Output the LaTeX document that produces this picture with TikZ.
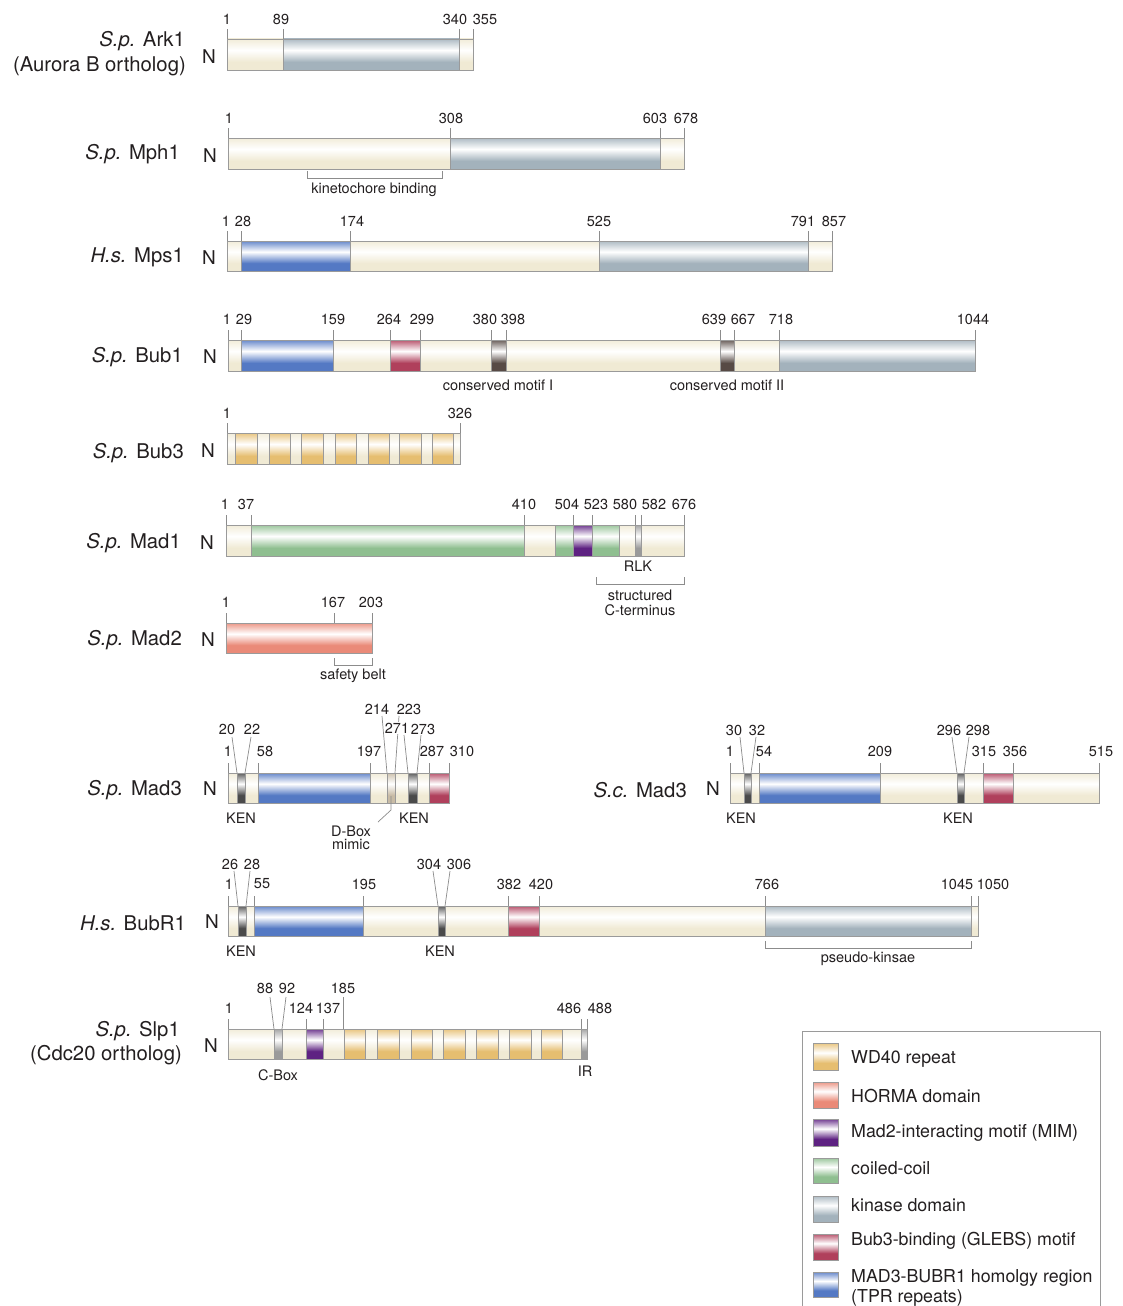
\documentclass[tikz,border=0pt]{standalone}
\usepackage{fontspec}
\setmainfont{TeX Gyre Heros}
\definecolor{beige}{HTML}{F0EAD4}
\definecolor{kin}{HTML}{A3B2BC}
\definecolor{tpr}{HTML}{5479C4}
\definecolor{glebs}{HTML}{B0405C}
\definecolor{wd}{HTML}{E6BE70}
\definecolor{horma}{HTML}{EA8A78}
\definecolor{mim}{HTML}{5E2282}
\definecolor{cc}{HTML}{8FBF90}
\definecolor{ken}{HTML}{4A4A4A}
\definecolor{motif}{HTML}{574A45}
\definecolor{rlk}{HTML}{9A9A9A}
\definecolor{dbox}{HTML}{C8BBA5}
\definecolor{edge}{HTML}{9A9A9A}
\definecolor{tickc}{HTML}{8C8C8C}
\definecolor{txt}{HTML}{231F20}
\colorlet{hitop}{white}\colorlet{himid}{white}\colorlet{hibot}{white}
\pgfdeclareverticalshading[hitop,himid,hibot]{hiband}{100bp}{color(0bp)=(hibot); color(25bp)=(hibot); color(38bp)=(hibot); color(57bp)=(himid); color(75bp)=(hitop); color(100bp)=(hitop)}
\newcounter{lb}
\newcommand\Lb[4][tnum]{\stepcounter{lb}\node[#1] (lb\arabic{lb}) at (#2,#3) {#4};}
\newcommand\Seg[5]{\colorlet{hitop}{#5!88!white}\colorlet{himid}{white}\colorlet{hibot}{#5}\shadedraw[shading=hiband, draw=edge, line width=0.7pt] (#1,#3) rectangle (#2,#4);}
\newcommand\Tks[3]{\foreach \x in {#3} {\draw[tk] (\x,#1) -- (\x,#2);}}
\tikzset{
  tnum/.style={font=\fontsize{14.5}{15}\selectfont, inner sep=0pt, text=txt},
  tlab/.style={font=\fontsize{14.5}{15}\selectfont, inner sep=0pt, text=txt},
  pname/.style={font=\fontsize{20.3}{21}\selectfont, inner sep=0pt, anchor=east, text=txt},
  nterm/.style={font=\fontsize{19}{20}\selectfont, inner sep=0pt, text=txt},
  legt/.style={font=\fontsize{17.8}{18}\selectfont, inner sep=0pt, anchor=west, text=txt},
  tk/.style={draw=tickc, line width=0.7pt}
}
\begin{document}
\begin{tikzpicture}[x=1pt,y=-1pt]
\useasboundingbox (0,0) rectangle (1122,1306);
\fill[white] (0,0) rectangle (1122,1306);

% ---------- Ark1
\Seg{227}{283}{39}{70}{beige}
\Seg{283}{459}{39}{70}{kin}
\Seg{459}{473}{39}{70}{beige}
\Tks{39}{29}{227,283,459,473}
\Lb{227}{19}{1}\Lb{281}{19}{89}\Lb{455}{19}{340}\Lb{485}{19}{355}
\Lb[pname]{185}{41}{\textit{S.p.} Ark1}
\Lb[pname]{186}{66}{(Aurora B ortholog)}
\Lb[nterm]{209}{57}{N}

% ---------- Mph1
\Seg{228}{450}{138}{169}{beige}
\Seg{450}{660}{138}{169}{kin}
\Seg{660}{684}{138}{169}{beige}
\Tks{138}{128}{228,450,660,684}
\Lb{229}{118}{1}\Lb{451}{118}{308}\Lb{655}{118}{603}\Lb{686}{118}{678}
\draw[tk] (307,171) -- (307,178) -- (442,178) -- (442,171);
\Lb[tlab]{374}{190}{kinetochore binding}
\Lb[pname]{180}{154}{\textit{S.p.} Mph1}
\Lb[nterm]{210}{156}{N}

% ---------- Mps1
\Seg{227}{241}{241}{271}{beige}
\Seg{241}{350}{241}{271}{tpr}
\Seg{350}{599}{241}{271}{beige}
\Seg{599}{808}{241}{271}{kin}
\Seg{808}{832}{241}{271}{beige}
\Tks{241}{231}{227,241,350,599,808,832}
\Lb{226}{221}{1}\Lb{243}{221}{28}\Lb{352}{221}{174}\Lb{599}{221}{525}\Lb{803}{221}{791}\Lb{834}{221}{857}
\Lb[pname]{184}{257}{\textit{H.s.} Mps1}
\Lb[nterm]{209}{258}{N}

% ---------- Bub1
\Seg{228}{241}{340}{371}{beige}
\Seg{241}{333}{340}{371}{tpr}
\Seg{333}{390}{340}{371}{beige}
\Seg{390}{420}{340}{371}{glebs}
\Seg{420}{491}{340}{371}{beige}
\Seg{491}{506}{340}{371}{motif}
\Seg{506}{720}{340}{371}{beige}
\Seg{720}{734}{340}{371}{motif}
\Seg{734}{779}{340}{371}{beige}
\Seg{779}{975}{340}{371}{kin}
\Tks{340}{330}{228,241,333,390,420,491,506,720,734,779,975}
\Lb{227}{319}{1}\Lb{244}{319}{29}\Lb{333}{319}{159}\Lb{389}{319}{264}\Lb{422}{319}{299}
\Lb{485}{319}{380}\Lb{513}{319}{398}\Lb{714}{319}{639}\Lb{743}{319}{667}\Lb{781}{319}{718}\Lb{973}{319}{1044}
\Lb[tlab]{498}{385}{conserved motif I}
\Lb[tlab]{727}{385}{conserved motif II}
\Lb[pname]{183}{357}{\textit{S.p.} Bub1}
\Lb[nterm]{210}{357}{N}

% ---------- Bub3
\Seg{227}{460}{433}{464}{beige}
\foreach \a/\b in {235/257,269/290,301/323,335/356,368/389,399/421,432/453} {\Seg{\a}{\b}{433}{464}{wd}}
\Tks{433}{423}{227,460}
\Lb{227}{413}{1}\Lb{460}{413}{326}
\Lb[pname]{184}{453}{\textit{S.p.} Bub3}
\Lb[nterm]{208}{451}{N}

% ---------- Mad1
\Seg{226}{251}{525}{556}{beige}
\Seg{251}{524}{525}{556}{cc}
\Seg{524}{555}{525}{556}{beige}
\Seg{555}{573}{525}{556}{cc}
\Seg{573}{592}{525}{556}{mim}
\Seg{592}{619}{525}{556}{cc}
\Seg{619}{635}{525}{556}{beige}
\Seg{635}{641}{525}{556}{rlk}
\Seg{641}{684}{525}{556}{beige}
\Tks{525}{515}{226,251,524,573,592,635,641,684}
\Lb{225}{504}{1}\Lb{246}{504}{37}\Lb{524}{504}{410}\Lb{567}{504}{504}\Lb{596}{504}{523}
\Lb{625}{504}{580}\Lb{654}{504}{582}\Lb{684}{504}{676}
\Lb[tlab]{638}{566}{RLK}
\draw[tk] (596,577) -- (596,584) -- (684,584) -- (684,577);
\Lb[tlab]{640}{595}{structured}
\Lb[tlab]{640}{610}{C-terminus}
\Lb[pname]{181}{543}{\textit{S.p.} Mad1}
\Lb[nterm]{207}{543}{N}

% ---------- Mad2
\Seg{226}{372}{623}{653}{horma}
\Tks{623}{613}{226,334,372}
\Lb{226}{602}{1}\Lb{333}{602}{167}\Lb{371}{602}{203}
\draw[tk] (334,658) -- (334,665) -- (372,665) -- (372,658);
\Lb[tlab]{353}{676}{safety belt}
\Lb[pname]{182}{640}{\textit{S.p.} Mad2}
\Lb[nterm]{208}{640}{N}

% ---------- S.p. Mad3
\Seg{228}{237}{773}{803}{beige}
\Seg{237}{245}{773}{803}{ken}
\Seg{245}{258}{773}{803}{beige}
\Seg{258}{370}{773}{803}{tpr}
\Seg{370}{387}{773}{803}{beige}
\Seg{387}{395}{773}{803}{dbox}
\Seg{395}{408}{773}{803}{beige}
\Seg{408}{417}{773}{803}{ken}
\Seg{417}{429}{773}{803}{beige}
\Seg{429}{449}{773}{803}{glebs}
\Tks{773}{763}{228,258,370,429,449}
\draw[tk] (237,773) -- (232,737);
\draw[tk] (245,773) -- (251,737);
\draw[tk] (387,773) -- (382,716);
\draw[tk] (395,773) -- (399,716);
\draw[tk] (408,773) -- (404,735);
\draw[tk] (417,773) -- (421,735);
\Lb{377}{709}{214}\Lb{409}{709}{223}
\Lb{227}{729}{20}\Lb{252}{729}{22}\Lb[tnum,fill=white,inner sep=1pt]{397}{728}{271}\Lb{423}{729}{273}
\Lb{228}{751}{1}\Lb{265}{751}{58}\Lb{369}{751}{197}\Lb{432}{751}{287}\Lb{462}{751}{310}
\Lb[tlab]{241}{818}{KEN}\Lb[tlab]{414}{818}{KEN}
\draw[tk] (391,796) -- (391,810) -- (378,822);
\Lb[tlab]{351}{831}{D-Box}
\Lb[tlab]{351}{844}{mimic}
\Lb[pname]{182}{790}{\textit{S.p.} Mad3}
\Lb[nterm]{210}{789}{N}

% ---------- S.c. Mad3
\Seg{730}{744}{773}{803}{beige}
\Seg{744}{751}{773}{803}{ken}
\Seg{751}{759}{773}{803}{beige}
\Seg{759}{880}{773}{803}{tpr}
\Seg{880}{957}{773}{803}{beige}
\Seg{957}{964}{773}{803}{ken}
\Seg{964}{983}{773}{803}{beige}
\Seg{983}{1013}{773}{803}{glebs}
\Seg{1013}{1099}{773}{803}{beige}
\Tks{773}{763}{730,759,880,983,1013,1099}
\draw[tk] (744,773) -- (740,737);
\draw[tk] (751,773) -- (756,737);
\draw[tk] (957,773) -- (952,737);
\draw[tk] (964,773) -- (969,737);
\Lb{734}{730}{30}\Lb{757}{730}{32}\Lb{949}{730}{296}\Lb{978}{730}{298}
\Lb{730}{751}{1}\Lb{764}{751}{54}\Lb{880}{751}{209}\Lb{984}{751}{315}\Lb{1015}{751}{356}\Lb{1101}{751}{515}
\Lb[tlab]{741}{818}{KEN}\Lb[tlab]{958}{818}{KEN}
\Lb[pname]{687}{790}{\textit{S.c.} Mad3}
\Lb[nterm]{713}{789}{N}

% ---------- BubR1
\Seg{228}{238}{906}{936}{beige}
\Seg{238}{246}{906}{936}{ken}
\Seg{246}{254}{906}{936}{beige}
\Seg{254}{363}{906}{936}{tpr}
\Seg{363}{438}{906}{936}{beige}
\Seg{438}{445}{906}{936}{ken}
\Seg{445}{508}{906}{936}{beige}
\Seg{508}{539}{906}{936}{glebs}
\Seg{539}{765}{906}{936}{beige}
\Seg{765}{971}{906}{936}{kin}
\Seg{971}{978}{906}{936}{beige}
\Tks{906}{896}{228,254,363,508,539,765,971,978}
\draw[tk] (238,906) -- (234,871);
\draw[tk] (246,906) -- (250,871);
\draw[tk] (438,906) -- (433,871);
\draw[tk] (445,906) -- (450,871);
\Lb{230}{864}{26}\Lb{252}{864}{28}\Lb{429}{864}{304}\Lb{459}{864}{306}
\Lb{229}{884}{1}\Lb{262}{884}{55}\Lb{364}{884}{195}\Lb{509}{884}{382}\Lb{541}{884}{420}
\Lb{767}{884}{766}\Lb{957}{884}{1045}\Lb{993}{884}{1050}
\Lb[tlab]{241}{951}{KEN}\Lb[tlab]{440}{951}{KEN}
\draw[tk] (765,941) -- (765,948) -- (971,948) -- (971,941);
\Lb[tlab]{868}{959}{pseudo-kinsae}
\Lb[pname]{186}{923}{\textit{H.s.} BubR1}
\Lb[nterm]{212}{922}{N}

% ---------- Slp1
\Seg{228}{587}{1029}{1059}{beige}
\Seg{274}{282}{1029}{1059}{rlk}
\Seg{306}{323}{1029}{1059}{mim}
\foreach \a/\b in {344/365,377/399,411/432,443/465,476/498,509/531,541/562} {\Seg{\a}{\b}{1029}{1059}{wd}}
\Seg{581}{587}{1029}{1059}{rlk}
\Tks{1029}{1019}{228,306,323,581,587}
\draw[tk] (343,1029) -- (343,997);
\draw[tk] (274,1029) -- (270,997);
\draw[tk] (282,1029) -- (286,997);
\Lb{265}{988}{88}\Lb{287}{988}{92}\Lb{343}{988}{185}
\Lb{229}{1008}{1}\Lb{301}{1008}{124}\Lb{328}{1008}{137}\Lb{569}{1008}{486}\Lb{600}{1008}{488}
\Lb[tlab]{278}{1075}{C-Box}
\Lb[tlab]{585}{1071}{IR}
\Lb[pname]{180}{1031}{\textit{S.p.} Slp1}
\Lb[pname]{182}{1055}{(Cdc20 ortholog)}
\Lb[nterm]{211}{1046}{N}

% ---------- Legend
\draw[draw=edge, line width=0.8pt] (802,1306) -- (802,1031) -- (1100,1031) -- (1100,1306);
\Seg{813}{838}{1043}{1070}{wd}
\Seg{813}{838}{1082}{1108}{horma}
\Seg{813}{838}{1119}{1146}{mim}
\Seg{813}{838}{1158}{1183}{cc}
\Seg{813}{838}{1196}{1222}{kin}
\Seg{813}{838}{1234}{1260}{glebs}
\Seg{813}{838}{1272}{1297}{tpr}
\Lb[legt]{851}{1059}{WD40 repeat}
\Lb[legt]{851}{1096}{HORMA domain}
\Lb[legt]{851}{1133}{Mad2-interacting motif (MIM)}
\Lb[legt]{851}{1168}{coiled-coil}
\Lb[legt]{851}{1205}{kinase domain}
\Lb[legt]{851}{1241}{Bub3-binding (GLEBS) motif}
\Lb[legt]{851}{1278}{MAD3-BUBR1 homolgy region}
\Lb[legt]{851}{1298}{(TPR repeats)}
\end{tikzpicture}
\end{document}
